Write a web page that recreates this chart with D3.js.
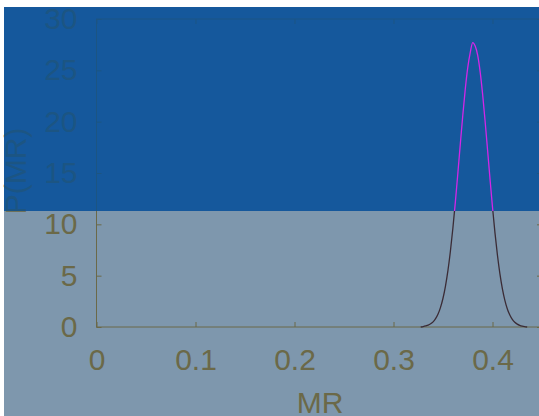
<!DOCTYPE html>
<html>
<head lang="en">
    <meta charset="UTF-8">
    <title>P(MR)</title>
    <script src="https://cdn.jsdelivr.net/npm/d3@7/dist/d3.min.js"></script>
    <style>
        body { margin: 0; background: #fff; }
        text { font-family: "Liberation Sans", Arial, sans-serif; }
    </style>
</head>
<body>
<script>

    // values
    var mrValues = [0.3275, 0.3300, 0.3325, 0.3350, 0.3375, 0.3400, 0.3425, 0.3450,
                    0.3475, 0.3500, 0.3525, 0.3550, 0.3575, 0.3600, 0.3625, 0.3650, 0.3675, 0.3700,
                    0.3725, 0.3750, 0.3775, 0.3800, 0.3825, 0.3850, 0.3875, 0.3900, 0.3925, 0.3950,
                    0.3975, 0.4000, 0.4025, 0.4050, 0.4075, 0.4100, 0.4125, 0.4150, 0.4175, 0.4200,
                    0.4225, 0.4250, 0.4275, 0.4300, 0.4325, 0.4350];
    var pValues = [0.00, 0.04, 0.10, 0.18, 0.31, 0.50, 0.81, 1.26,
                   1.91, 2.80, 3.99, 5.51, 7.40, 9.64, 12.19, 14.97, 17.84, 20.63,
                   23.17, 25.26, 26.72, 27.70, 27.36, 26.48, 24.88, 22.69, 20.09, 17.26,
                   14.40, 11.66, 9.17, 6.99, 5.18, 3.72, 2.60, 1.76, 1.16, 0.74,
                   0.46, 0.28, 0.16, 0.08, 0.03, 0.00];
    var xTicks = [0, 0.1, 0.2, 0.3, 0.4];
    var yTicks = [0, 5, 10, 15, 20, 25, 30];

    var width = 539,
        height = 416,
        split = 211;

    var x = d3.scaleLinear().domain([0, 0.45]).range([96.5, 542]);
    var y = d3.scaleLinear().domain([0, 30]).range([327, 19]);

    var svg = d3.select("body").append("svg")
        .attr("width", width)
        .attr("height", height);

    svg.append("defs").append("clipPath").attr("id", "topclip")
        .append("rect").attr("x", 0).attr("y", 0).attr("width", width).attr("height", split);

    var bottomColors = {bg: "#7e97ad", ink: "#6b6948", line: "#3b2c36"},
        topColors = {bg: "#15589c", ink: "#1c5583", line: "#d426e6"};

    var data = mrValues.map(function(d, i) { return [d, pValues[i]]; });

    drawChart(svg.append("g"), bottomColors, 4, 7);
    drawChart(svg.append("g").attr("clip-path", "url(#topclip)"), topColors, 4, 7);

    function drawChart(g, c, left, top) {
        g.append("rect")
            .attr("x", left).attr("y", top)
            .attr("width", width - left).attr("height", height - top)
            .attr("fill", c.bg);

        // box
        g.append("rect")
            .attr("x", x(0)).attr("y", y(30))
            .attr("width", x(0.45) - x(0)).attr("height", y(0) - y(30))
            .attr("fill", "none").attr("stroke", c.ink).attr("stroke-width", 1);

        var xb = g.append("g").attr("transform", "translate(0," + y(0) + ")")
            .call(d3.axisBottom(x).tickValues(xTicks).tickSize(-5).tickPadding(21)
                .tickFormat(d3.format("")));
        var xt = g.append("g").attr("transform", "translate(0," + y(30) + ")")
            .call(d3.axisTop(x).tickValues(xTicks).tickSize(-5).tickFormat(""));
        var yl = g.append("g").attr("transform", "translate(" + x(0) + ",0)")
            .call(d3.axisLeft(y).tickValues(yTicks).tickSize(-5).tickPadding(19));
        var yr = g.append("g").attr("transform", "translate(" + x(0.45) + ",0)")
            .call(d3.axisRight(y).tickValues(yTicks).tickSize(-5).tickFormat(""));

        [xb, xt, yl, yr].forEach(function(a) {
            a.select(".domain").remove();
            a.selectAll("line").attr("stroke", c.ink);
            a.selectAll("text").attr("fill", c.ink)
                .style("font-size", "30px")
                .style("font-family", "'Liberation Sans', Arial, sans-serif");
        });
        xb.selectAll("text").attr("dy", "0.72em");

        g.append("path")
            .datum(data)
            .attr("fill", "none")
            .attr("stroke", c.line)
            .attr("stroke-width", 1.3)
            .attr("d", d3.line()
                .curve(d3.curveMonotoneX)
                .x(function(d) { return x(d[0]); })
                .y(function(d) { return y(d[1]); }));

        g.append("text")
            .attr("x", 320).attr("y", 413)
            .attr("text-anchor", "middle")
            .attr("fill", c.ink)
            .style("font-size", "30px")
            .text("MR");

        g.append("text")
            .attr("transform", "translate(26,171) rotate(-90)")
            .attr("text-anchor", "middle")
            .attr("fill", c.ink)
            .style("font-size", "30px")
            .text("P(MR)");
    }
</script>
</body>
</html>
